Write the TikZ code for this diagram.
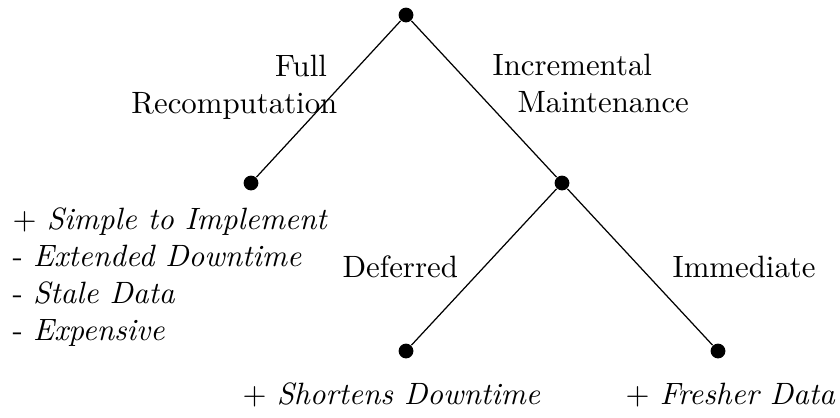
\documentclass[tikz,border=0pt]{standalone}
\begin{document}
\begin{tikzpicture}[x=0.3243pt,y=-0.3243pt,
  leaf/.style={circle,fill=black,inner sep=0pt,minimum size=4.8pt},
  edge/.style={line width=0.4pt},
  lbl/.style={inner sep=0pt},
  pros/.style={inner sep=0pt,align=left}]
\useasboundingbox (0,0) rectangle (840,417);
% tree nodes
\node[leaf] (root) at (406,15) {};
\node[leaf] (full) at (251,183) {};
\node[leaf] (incr) at (562,183) {};
\node[leaf] (defer) at (406,351) {};
\node[leaf] (immed) at (718,351) {};
% edges
\draw[edge] (root) -- (full);
\draw[edge] (root) -- (incr);
\draw[edge] (incr) -- (defer);
\draw[edge] (incr) -- (immed);
% edge labels
\node[lbl,align=right,anchor=north east] (lfull) at (338,54.6) {Full\hspace*{3.4pt}\\Recomputation};
\node[lbl,align=left,anchor=north west] (lincr) at (492,53.6) {Incremental\\\hspace*{8.1pt}Maintenance};
\node[lbl,anchor=base west] (ldefer) at (342,277) {Deferred};
\node[lbl,anchor=base west] (limmed) at (672,277) {Immediate};
% pros and cons
\node[pros,anchor=north west] (pfull) at (12,207.6) {$+$ \textit{Simple to Implement}\\- \textit{Extended Downtime}\\- \textit{Stale Data}\\- \textit{Expensive}};
\node[pros,anchor=base west] (pdefer) at (242,404) {$+$ \textit{Shortens Downtime}};
\node[pros,anchor=base west] (pimmed) at (625,404) {$+$ \textit{Fresher Data}};
\end{tikzpicture}
\end{document}
